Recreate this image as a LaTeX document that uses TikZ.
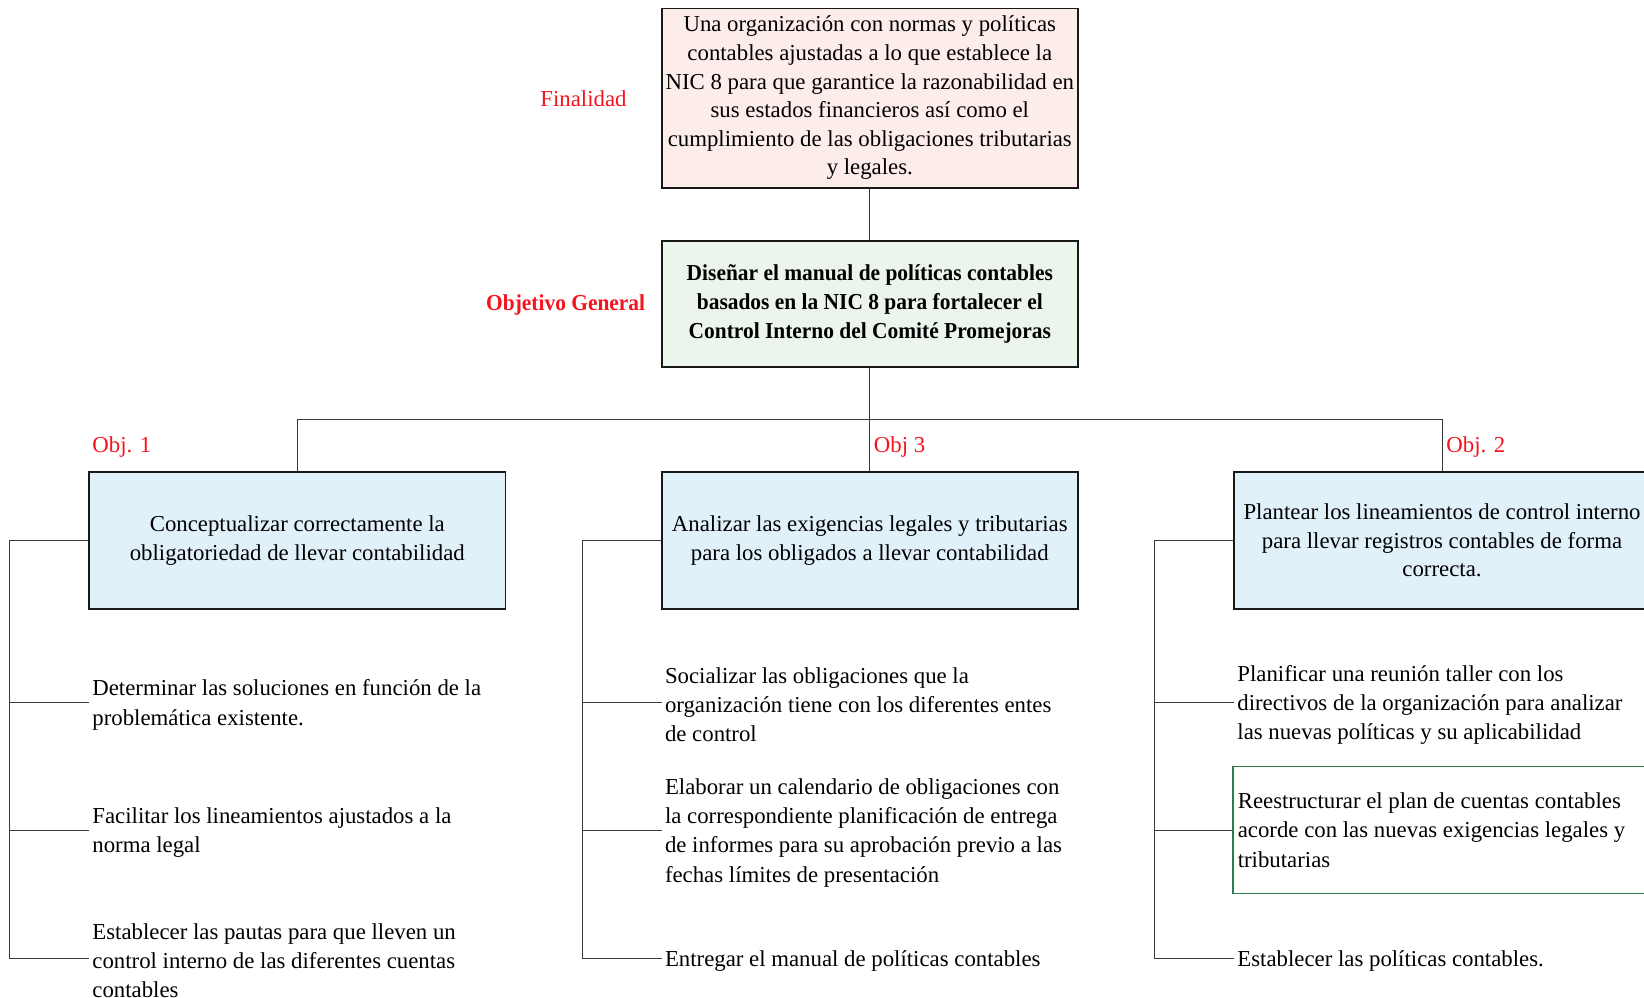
\documentclass[tikz,border=0pt]{standalone}
\usepackage{fontspec}
\setmainfont{Liberation Serif}
\newfontfamily\condserif[FakeStretch=0.94]{Liberation Serif}
\newcommand\boxfont{\fontsize{11.4pt}{14.3pt}\selectfont}
\newcommand\itemfont{\fontsize{11.4pt}{14.6pt}\selectfont}
\definecolor{finfill}{HTML}{FDEDEA}
\definecolor{genfill}{HTML}{EBF5EC}
\definecolor{objfill}{HTML}{E1F1FA}
\definecolor{greenedge}{HTML}{2E7B4F}
\definecolor{tagred}{HTML}{F5141E}
\definecolor{linkgray}{HTML}{3A3A3A}
\tikzset{
  boxbase/.style={draw=black!90, line width=0.9pt, align=center, inner xsep=1pt,
    minimum width=208.2pt, font=\boxfont},
  finbox/.style={boxbase, fill=finfill, minimum height=89.6pt},
  genbox/.style={boxbase, fill=genfill, minimum height=63pt, font=\boxfont\condserif\bfseries},
  objbox/.style={boxbase, fill=objfill, minimum height=68.7pt},
  item/.style={anchor=west, align=flush left, inner xsep=1.5pt, yshift=-1.2pt, font=\itemfont},
  greenbox/.style={anchor=west, draw=greenedge, line width=0.8pt, align=flush left,
    text width=202pt, minimum height=63.4pt, inner xsep=2.5pt, font=\itemfont},
  tag/.style={text=tagred, font=\boxfont, inner sep=1.5pt},
  link/.style={draw=linkgray, line width=0.5pt}
}
\begin{document}
\begin{tikzpicture}[x=0.5pt, y=-0.5pt]
\useasboundingbox (0,0) rectangle (1644,997);

% purpose and general objective
\node[finbox] (fin) at (869.8,98) {Una organización con normas y políticas\\
  contables ajustadas a lo que establece la\\
  NIC 8 para que garantice la razonabilidad en\\
  sus estados financieros así como el\\
  cumplimiento de las obligaciones tributarias\\
  y legales.};
\node[genbox] (gen) at (869.8,304) {Diseñar el manual de políticas contables\\
  basados en la NIC 8 para fortalecer el\\
  Control Interno del Comité Promejoras};

\node[tag] (tfin) at (583.5,99) {Finalidad};
\node[tag, font=\boxfont\condserif\bfseries] (tgen) at (565.7,305) {Objetivo General};

% specific objectives
\node[objbox] (o1) at (297.3,540.5) {Conceptualizar correctamente la\\
  obligatoriedad de llevar contabilidad};
\node[objbox] (o3) at (869.8,540.5) {Analizar las exigencias legales y tributarias\\
  para los obligados a llevar contabilidad};
\node[objbox] (o2) at (1442,540.5) {Plantear los lineamientos de control interno\\
  para llevar registros contables de forma\\
  correcta.};

\node[tag, anchor=west] (t1) at (89,447) {Obj. 1};
\node[tag, anchor=west] (t3) at (870.5,447) {Obj 3};
\node[tag, anchor=west] (t2) at (1443,447) {Obj. 2};

% branch points of the activities
\coordinate (k11) at (89,702.5);
\coordinate (k12) at (89,830.4);
\coordinate (k13) at (89,958.3);
\coordinate (k31) at (661.6,702.5);
\coordinate (k32) at (661.6,830.4);
\coordinate (k33) at (661.6,958.3);
\coordinate (k21) at (1234,702.5);
\coordinate (k23) at (1234,958.3);

% activities, column 1
\node[item] (a11) at (k11) {Determinar las soluciones en función de la\\
  problemática existente.};
\node[item] (a12) at (k12) {Facilitar los lineamientos ajustados a la\\
  norma legal};
\node[item] (a13) at (k13) {Establecer las pautas para que lleven un\\
  control interno de las diferentes cuentas\\
  contables};

% activities, column 3
\node[item] (a31) at (k31) {Socializar las obligaciones que la\\
  organización tiene con los diferentes entes\\
  de control};
\node[item] (a32) at (k32) {Elaborar un calendario de obligaciones con\\
  la correspondiente planificación de entrega\\
  de informes para su aprobación previo a las\\
  fechas límites de presentación};
\node[item] (a33) at (k33) {Entregar el manual de políticas contables};

% activities, column 2
\node[item] (a21) at (k21) {Planificar una reunión taller con los\\
  directivos de la organización para analizar\\
  las nuevas políticas y su aplicabilidad};
\node[greenbox] (a22) at (1232,830) {Reestructurar el plan de cuentas contables\\
  acorde con las nuevas exigencias legales y\\
  tributarias};
\node[item] (a23) at (k23) {Establecer las políticas contables.};

% hierarchy connectors
\coordinate (bar) at (0,419.5);
\draw[link] (fin.south) -- (gen.north);
\draw[link] (gen.south) -- (o3.north);
\draw[link] (o1.north) -- (o1.north |- bar) -- (o2.north |- bar) -- (o2.north);

% activity brackets
\draw[link] (o1.west) -- ++(-78.5,0) coordinate (s1) -- (s1 |- k13) -- (k13);
\draw[link] (s1 |- k11) -- (k11);
\draw[link] (s1 |- k12) -- (k12);

\draw[link] (o3.west) -- ++(-78.6,0) coordinate (s3) -- (s3 |- k33) -- (k33);
\draw[link] (s3 |- k31) -- (k31);
\draw[link] (s3 |- k32) -- (k32);

\draw[link] (o2.west) -- ++(-78.5,0) coordinate (s2) -- (s2 |- k23) -- (k23);
\draw[link] (s2 |- k21) -- (k21);
\draw[link] (s2 |- a22.west) -- (a22.west);
\end{tikzpicture}
\end{document}
